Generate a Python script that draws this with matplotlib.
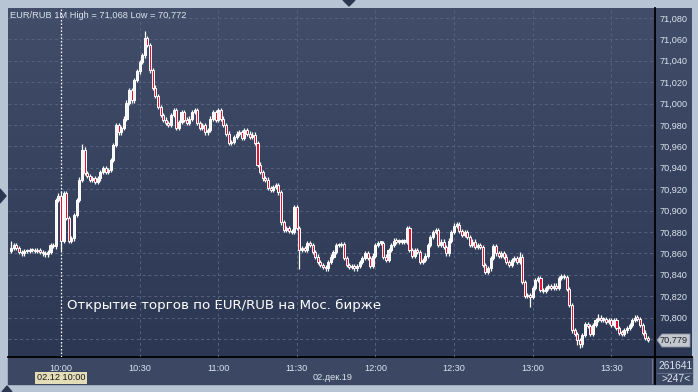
import matplotlib
matplotlib.use("Agg")
import matplotlib.pyplot as plt
import numpy as np
from matplotlib.colors import LinearSegmentedColormap
from matplotlib.patches import Rectangle, Polygon

# EUR/RUB 1-minute closes, 09:41 .. 13:44
closes = [
    70.865, 70.868, 70.865, 70.861, 70.860, 70.862, 70.862, 70.863, 70.863, 70.862,
    70.863, 70.861, 70.860, 70.859, 70.861, 70.868, 70.867, 70.910, 70.914,
    70.872, 70.916, 70.893, 70.872, 70.874, 70.896, 70.910, 70.929, 70.957, 70.935,
    70.932, 70.929, 70.930, 70.927, 70.930, 70.936, 70.940, 70.936, 70.938,
    70.947, 70.961, 70.980, 70.973, 70.977, 70.986, 71.001, 71.013, 71.003, 71.022,
    71.030, 71.039, 71.045, 71.061, 71.055, 71.031, 71.015, 71.007, 70.997,
    70.989, 70.985, 70.982, 70.980, 70.989, 70.994, 70.977, 70.983, 70.992, 70.985,
    70.982, 70.986, 70.992, 70.994, 70.982, 70.977, 70.980, 70.973, 70.975,
    70.986, 70.992, 70.985, 70.994, 70.986, 70.980, 70.972, 70.963, 70.964, 70.969,
    70.972, 70.973, 70.968, 70.975, 70.972, 70.969, 70.971, 70.963, 70.943,
    70.936, 70.930, 70.929, 70.921, 70.919, 70.922, 70.924, 70.917, 70.889, 70.882,
    70.884, 70.881, 70.880, 70.903, 70.884, 70.863, 70.865, 70.863, 70.870,
    70.868, 70.861, 70.857, 70.852, 70.849, 70.847, 70.846, 70.852, 70.857, 70.861,
    70.868, 70.868, 70.869, 70.856, 70.849, 70.847, 70.848, 70.846, 70.848,
    70.852, 70.856, 70.860, 70.856, 70.848, 70.858, 70.868, 70.870, 70.870, 70.857,
    70.854, 70.863, 70.868, 70.872, 70.871, 70.871, 70.871, 70.871, 70.884,
    70.863, 70.858, 70.863, 70.861, 70.852, 70.854, 70.858, 70.868, 70.875, 70.880,
    70.882, 70.868, 70.871, 70.866, 70.860, 70.872, 70.880, 70.886, 70.887,
    70.881, 70.877, 70.880, 70.875, 70.868, 70.871, 70.866, 70.868, 70.866, 70.849,
    70.843, 70.846, 70.856, 70.867, 70.860, 70.858, 70.860, 70.857, 70.852,
    70.849, 70.854, 70.856, 70.852, 70.857, 70.833, 70.820, 70.821, 70.819, 70.828,
    70.835, 70.837, 70.826, 70.825, 70.828, 70.829, 70.828, 70.830, 70.828,
    70.837, 70.839, 70.838, 70.827, 70.812, 70.788, 70.785, 70.779, 70.775, 70.784,
    70.794, 70.792, 70.785, 70.793, 70.798, 70.800, 70.798, 70.799, 70.796,
    70.798, 70.793, 70.798, 70.790, 70.786, 70.785, 70.788, 70.790, 70.793, 70.798,
    70.800, 70.799, 70.793, 70.786, 70.781, 70.779,
]
first_open = 70.862
# wicks that stick out noticeably (minute index -> high / low)
high_overrides = {0: 70.872, 19: 70.918, 27: 70.962, 51: 71.068, 194: 70.861, 224: 70.803}
low_overrides = {17: 70.864, 19: 70.862, 110: 70.845, 198: 70.810, 217: 70.772, 216: 70.774}
wick = 0.002

time_ticks = [19, 49, 79, 109, 139, 169, 199, 229]
time_labels = ["10:00", "10:30", "11:00", "11:30", "12:00", "12:30", "13:00", "13:30"]
price_ticks = [70.780, 70.800, 70.820, 70.840, 70.860, 70.880, 70.900, 70.920,
               70.940, 70.960, 70.980, 71.000, 71.020, 71.040, 71.060, 71.080]

W, H = 698, 392
fig = plt.figure(figsize=(W / 100, H / 100), dpi=100)
fig.patch.set_facecolor("#b7c4d4")

# background panels in pixel coordinates
bg = fig.add_axes([0, 0, 1, 1])
bg.patch.set_alpha(0)
grad = np.linspace(0, 1, 256).reshape(-1, 1)
cmap = LinearSegmentedColormap.from_list("bg", ["#414d69", "#2c3853"])
bg.imshow(grad, extent=(8, 692, 357, 8), cmap=cmap, aspect="auto", zorder=1)
bg.add_patch(Rectangle((8, 357), 684, 27, color="#3b4763", zorder=2))
bg.plot([655, 655], [8, 384], color="black", lw=1.3, zorder=3)
bg.plot([8, 692], [357, 357], color="black", lw=1.3, zorder=3)
bg.plot([652, 652], [359, 383], color="#6b7690", lw=0.8, zorder=3)
bg.plot([657, 692], [373, 373], color="#6b7690", lw=0.6, zorder=3)
bg.add_patch(Polygon([[343, 0], [355, 0], [349, 6]], color="#2b3650", zorder=3))
bg.add_patch(Polygon([[0, 189], [0, 203], [6, 196]], color="#2b3650", zorder=3))
bg.add_patch(Polygon([[2, 392], [12, 392], [7, 386]], color="#2b3650", zorder=3))
bg.set_xlim(0, W)
bg.set_ylim(H, 0)
bg.axis("off")

small = dict(family=["Liberation Sans", "DejaVu Sans"], color="#dde4ee", zorder=4)
bg.text(10, 15, "EUR/RUB 1M High = 71,068 Low = 70,772", fontsize=6.7, va="center", **small)
bg.text(67, 305, "Открытие торгов по EUR/RUB на Мос. бирже", fontsize=9.6,
        color="white", va="center", ha="left", family="DejaVu Sans", zorder=4)
bg.text(61, 378, "02.12 10:00", fontsize=6.6, ha="center", va="center",
        family=["Liberation Sans"], color="#1b1b1b", zorder=4,
        bbox=dict(boxstyle="square,pad=0.15", fc="#e3ddb8", ec="none"))
bg.text(333, 377, "02.дек.19", fontsize=6.6, ha="center", va="center", **small)
bg.text(676, 366, "261641", fontsize=7.4, ha="center", va="center", **small)
bg.text(676, 379, ">247<", fontsize=7.4, ha="center", va="center", **small)
bg.add_patch(Polygon([[657, 340], [662, 334], [690, 334], [690, 347], [662, 347]],
                     fc="#c3c8d0", ec="#8c94a4", lw=0.6, zorder=4))
bg.text(674, 340.5, "70,779", fontsize=6.6, ha="center", va="center",
        family=["Liberation Sans"], color="#222222", zorder=5)

# candles
ax = fig.add_axes([8 / W, 1 - 357 / H, 647 / W, 349 / H])
ax.patch.set_alpha(0)
c = np.array(closes)
o = np.concatenate([[first_open], c[:-1]])
x = np.arange(len(c))
hi = np.maximum(o, c) + wick
lo = np.minimum(o, c) - wick
for k, v in high_overrides.items():
    hi[k] = v
for k, v in low_overrides.items():
    lo[k] = v

ax.vlines(x, lo, hi, color="white", lw=0.9, zorder=3)
body_bot = np.minimum(o, c)
body_h = np.maximum(np.abs(c - o), 0.0012)
face = np.where(c < o, "#e3122f", "#f6f6f6")
ax.bar(x, body_h, bottom=body_bot, width=0.78, color=face, edgecolor="white",
       linewidth=0.7, zorder=4)

ax.axvline(19, color="white", ls=(0, (1.2, 1.6)), lw=0.9, zorder=2)

ax.set_xlim(-1.22, 245.7)
ax.set_ylim(70.7632, 71.0893)
ax.set_xticks(time_ticks)
ax.set_xticklabels(time_labels)
ax.set_yticks(price_ticks)
ax.set_yticklabels(["" if p == 70.780 else f"{p:.3f}".replace(".", ",") for p in price_ticks])
ax.yaxis.tick_right()
ax.tick_params(length=0, labelsize=6.6, labelcolor="#dde4ee", pad=3)
ax.tick_params(axis="x", pad=5)
for lab in ax.get_xticklabels() + ax.get_yticklabels():
    lab.set_family(["Liberation Sans", "DejaVu Sans"])
ax.grid(True, color="#56627e", lw=0.7, ls=(0, (3, 3)), zorder=1)
for s in ax.spines.values():
    s.set_visible(False)

fig.savefig("out.png", dpi=100)
